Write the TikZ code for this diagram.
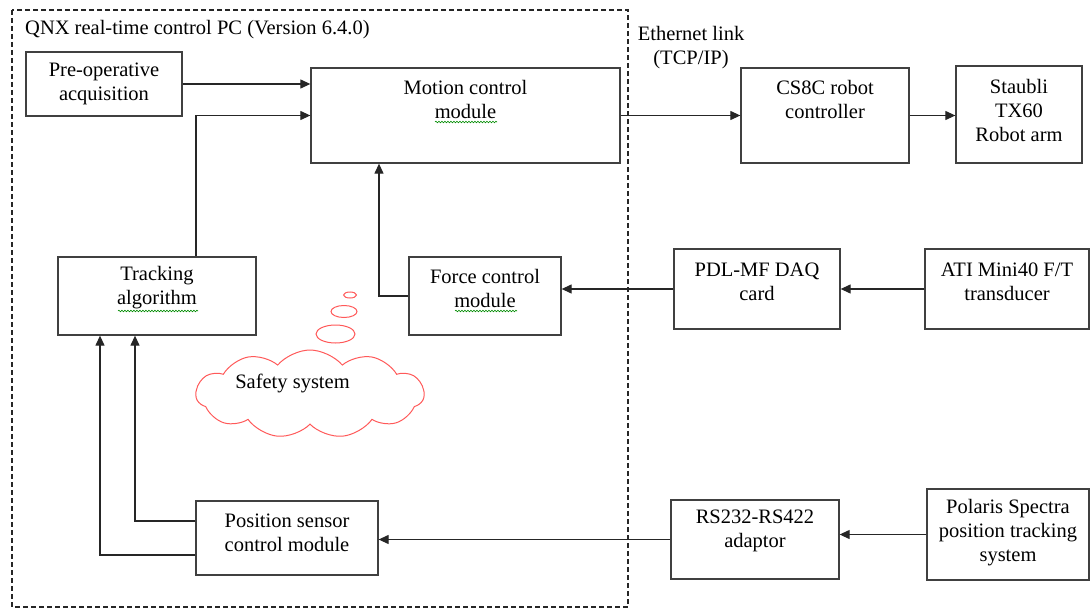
\documentclass[tikz,border=0pt]{standalone}
\usepackage{fontspec}
\setmainfont{Liberation Serif}
\usetikzlibrary{arrows.meta,shapes.symbols,decorations.pathmorphing}
\begin{document}
\begin{tikzpicture}[x=1pt,y=-1pt,
  every node/.style={font=\fontsize{20.5}{24}\selectfont},
  blk/.style={draw=black!75,line width=1.3pt,inner sep=0pt,fill=white},
  lbl/.style={align=center,inner sep=0pt,text=black},
  arr/.style={draw=black!85,line width=1.2pt,-{Triangle[length=10pt,width=9pt]}},
  squiggle/.style={draw=green!55!black,line width=0.6pt,decorate,
    decoration={snake,amplitude=0.8pt,segment length=3pt}},
  thought/.style={draw=red!65,line width=1pt}]
\useasboundingbox (0,0) rectangle (1090,610);

% QNX control PC frame
\draw[black!85,line width=1.2pt,dash pattern=on 5pt off 3pt] (12,10) rectangle (628,607);
\node[lbl,anchor=west] (qnx) at (25,30) {QNX real-time control PC (Version 6.4.0)};
\node[lbl] (eth) at (691,47.5) {Ethernet link\\(TCP/IP)};

% blocks
\node[blk,minimum width=156pt,minimum height=64pt] (pre) at (104,84) {};
\node[lbl] (pretxt) at (104,84) {Pre-operative\\acquisition};

\node[blk,minimum width=309pt,minimum height=95pt] (motion) at (465.5,115.5) {};
\node[lbl] (motiontxt) at (465.5,99) {Motion control\\module};

\node[blk,minimum width=168pt,minimum height=95pt] (cs8c) at (825,115.5) {};
\node[lbl] (cs8ctxt) at (825,99) {CS8C robot\\controller};

\node[blk,minimum width=126pt,minimum height=97pt] (staubli) at (1019,114.5) {};
\node[lbl] (staublitxt) at (1019,110) {Staubli\\TX60\\Robot arm};

\node[blk,minimum width=198pt,minimum height=78pt] (track) at (157,296) {};
\node[lbl] (tracktxt) at (157,288) {Tracking\\algorithm};

\node[blk,minimum width=152pt,minimum height=78pt] (force) at (485,296) {};
\node[lbl] (forcetxt) at (485,288) {Force control\\module};

\node[blk,minimum width=166pt,minimum height=80pt] (pdl) at (757,289) {};
\node[lbl] (pdltxt) at (757,281.5) {PDL-MF DAQ\\card};

\node[blk,minimum width=164pt,minimum height=80pt] (ati) at (1007,289) {};
\node[lbl] (atitxt) at (1007,281.5) {ATI Mini40 F/T\\transducer};

\node[blk,minimum width=182pt,minimum height=74pt] (pos) at (287,538) {};
\node[lbl] (postxt) at (287,533) {Position sensor\\control module};

\node[blk,minimum width=168pt,minimum height=79pt] (rs) at (755,539.5) {};
\node[lbl] (rstxt) at (755,531) {RS232-RS422\\adaptor};

\node[blk,minimum width=162pt,minimum height=91pt] (polaris) at (1008,534.5) {};
\node[lbl] (polaristxt) at (1008,533) {Polaris Spectra\\position tracking\\system};

% safety system cloud with its thought bubbles
\node[cloud,cloud puffs=11,cloud puff arc=100,aspect=2.3,draw=red!65,line width=1pt,
  minimum width=228pt,minimum height=88pt,inner sep=0pt] (safety) at (310,394) {};
\node[lbl] (safetytxt) at (292.5,383) {Safety system};
\draw[thought] (335.5,334) ellipse [x radius=19.5,y radius=9];
\draw[thought] (344,311.5) ellipse [x radius=13,y radius=6];
\draw[thought] (350,295) ellipse [x radius=6.5,y radius=3];

% spell-check underlines
\draw[squiggle] (435,122) -- (497,122);
\draw[squiggle] (118,311) -- (198,311);
\draw[squiggle] (455,311) -- (517,311);

% connectors
\draw[arr] (pre.east) -- (pre.east -| motion.west);
\draw[arr] ([xshift=39pt]track.north) |- (motion.west);
\draw[arr] (force.west) -| ([xshift=-86.5pt]motion.south);
\draw[arr] (motion.east) -- (cs8c.west);
\draw[arr] (cs8c.east) -- (cs8c.east -| staubli.west);
\draw[arr] (ati.west) -- (pdl.east);
\draw[arr] (pdl.west) -- (pdl.west -| force.east);
\draw[arr] (polaris.west) -- (polaris.west -| rs.east);
\draw[arr] (rs.west) -- (rs.west -| pos.east);
\draw[arr] ([yshift=17pt]pos.west) -| ([xshift=-22pt]track.south);
\draw[arr] ([yshift=-17pt]pos.west) -| ([xshift=-57pt]track.south);
\end{tikzpicture}
\end{document}
